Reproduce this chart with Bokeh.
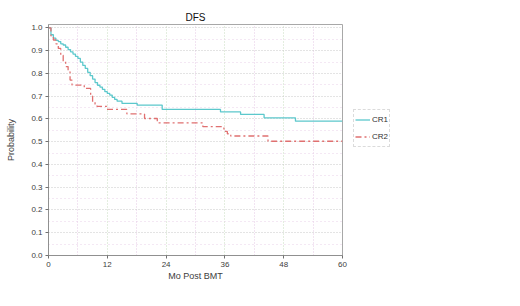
from bokeh.plotting import figure
from bokeh.models import Range1d, FixedTicker, Legend, LegendItem, CustomJSTickFormatter
from bokeh.embed import file_html
from bokeh.resources import INLINE

# Kaplan-Meier step data
cr1_months = [0, 0.5, 1.0, 1.5, 2.0, 2.5, 3.0, 3.5, 4.0, 4.5, 5.0, 5.5, 6.0, 6.5, 7.0, 7.5, 8.0,
              8.5, 9.0, 9.5, 10.0, 10.5, 11.0, 11.5, 12.0, 12.5, 13.0, 13.5, 14.0, 15.0, 18.1,
              23.2, 35.1, 39.2, 44.0, 50.4, 60]
cr1_prob = [1.0, 0.97, 0.955, 0.945, 0.94, 0.93, 0.925, 0.915, 0.905, 0.895, 0.885, 0.875, 0.866,
            0.85, 0.835, 0.822, 0.805, 0.79, 0.775, 0.76, 0.748, 0.74, 0.73, 0.72, 0.712, 0.705,
            0.695, 0.686, 0.678, 0.668, 0.661, 0.642, 0.631, 0.620, 0.605, 0.590, 0.590]

cr2_months = [0, 0.5, 1.0, 1.5, 2.0, 2.5, 3.0, 3.5, 4.0, 4.4, 4.8, 7.3, 8.6, 9.0, 9.5, 9.9, 11.9,
              16.0, 19.6, 22.2, 31.5, 35.8, 36.5, 37.2, 44.8, 60]
cr2_prob = [1.0, 0.965, 0.947, 0.93, 0.91, 0.88, 0.852, 0.83, 0.807, 0.771, 0.749, 0.734, 0.70,
            0.675, 0.665, 0.655, 0.642, 0.622, 0.602, 0.583, 0.566, 0.545, 0.535, 0.525, 0.502,
            0.502]

x_ticks = [0, 12, 24, 36, 48, 60]
y_ticks = [0.0, 0.1, 0.2, 0.3, 0.4, 0.5, 0.6, 0.7, 0.8, 0.9, 1.0]
series_labels = ["CR1", "CR2"]

FONT = "Liberation Sans"

p = figure(frame_width=294, frame_height=231, output_backend="svg", toolbar_location=None,
           x_range=Range1d(0, 60), y_range=Range1d(0, 1.015),
           min_border_left=48, min_border_right=178, min_border_top=24, min_border_bottom=51,
           title="DFS")
p.title.align = "center"
p.title.text_font = FONT
p.title.text_font_size = "10px"
p.title.text_font_style = "normal"
p.title.text_color = "#101010"
p.title.standoff = 3

p.background_fill_color = "white"
p.border_fill_color = "white"
p.outline_line_color = "#a8a8a8"
p.outline_line_width = 1

for ax in (p.xaxis[0], p.yaxis[0]):
    ax.axis_line_color = "#909090"
    ax.major_tick_line_color = "#707070"
    ax.major_tick_out = 3
    ax.major_tick_in = 0
    ax.minor_tick_line_color = None
    ax.major_label_text_font = FONT
    ax.major_label_text_font_size = "8px"
    ax.major_label_text_color = "#404040"
    ax.axis_label_text_font = FONT
    ax.axis_label_text_font_size = "9px"
    ax.axis_label_text_font_style = "normal"
    ax.axis_label_text_color = "#404040"

p.xaxis.ticker = FixedTicker(ticks=x_ticks, minor_ticks=[6, 18, 30, 42, 54])
p.yaxis.ticker = FixedTicker(ticks=y_ticks,
                             minor_ticks=[0.05, 0.15, 0.25, 0.35, 0.45, 0.55, 0.65, 0.75, 0.85, 0.95])
p.yaxis.formatter = CustomJSTickFormatter(code="return tick.toFixed(1);")
p.xaxis.axis_label = "Mo Post BMT"
p.yaxis.axis_label = "Probability"
p.xaxis.major_label_standoff = 2
p.yaxis.major_label_standoff = 2
p.xaxis.axis_label_standoff = 1
p.yaxis.axis_label_standoff = 12

p.xgrid.grid_line_color = "#c8dcc0"
p.xgrid.grid_line_dash = "1 2"
p.xgrid.minor_grid_line_color = "#e4c8e4"
p.xgrid.minor_grid_line_dash = "1 2"
p.ygrid.grid_line_color = "#c8c8c8"
p.ygrid.grid_line_dash = "1 2"
p.ygrid.minor_grid_line_color = "#e8d0e8"
p.ygrid.minor_grid_line_dash = "1 3"

r1 = p.step(cr1_months, cr1_prob, mode="after", line_color="#5cc8cc", line_width=1.3)
r2 = p.step(cr2_months, cr2_prob, mode="after", line_color="#e07070", line_width=1.3,
            line_dash="6 3 2 3")

legend = Legend(items=[LegendItem(label=series_labels[0], renderers=[r1]),
                       LegendItem(label=series_labels[1], renderers=[r2])],
                location=(11, 108), orientation="vertical",
                glyph_width=15, glyph_height=17, label_height=17, label_width=16,
                padding=1, spacing=0, margin=0, label_standoff=2,
                label_text_font=FONT, label_text_font_size="8px", label_text_color="#303030",
                border_line_color="#b8b8b8", border_line_dash="1 2",
                background_fill_alpha=0)
p.add_layout(legend, "right")

open("out.html", "w").write(file_html(p, INLINE))
